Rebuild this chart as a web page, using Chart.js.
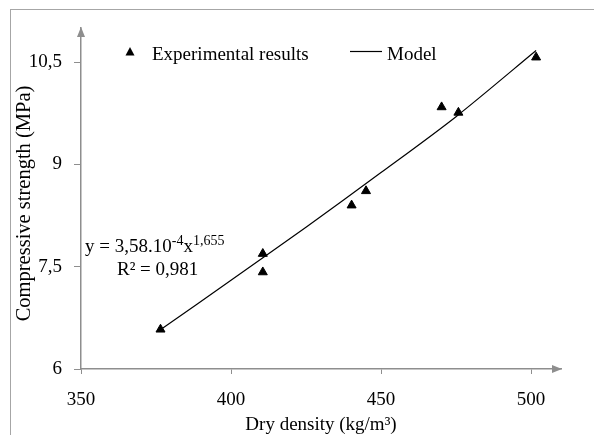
<!DOCTYPE html>
<html>
<head>
<meta charset="utf-8">
<script src="https://cdn.jsdelivr.net/npm/chart.js@4/dist/chart.umd.min.js"></script>
<style>
  html, body { margin: 0; padding: 0; background: #fff; }
  #wrap { position: relative; width: 594px; height: 435px; overflow: hidden; }
  #frame { position: absolute; left: 10px; top: 9px; width: 700px; height: 600px;
           border-top: 1px solid #a6a6a6; border-left: 1px solid #a6a6a6; }
  canvas { position: absolute; left: 0; top: 0; }
</style>
</head>
<body>
<div id="wrap">
  <div id="frame"></div>
  <canvas id="chart" width="594" height="435"></canvas>
</div>
<script>
// Measured points (dry density vs compressive strength)
const density = [376.5, 410.6, 410.6, 440.2, 445.0, 470.2, 475.8, 501.7];
const strength = [6.58, 7.69, 7.42, 8.40, 8.61, 9.84, 9.76, 10.57];

// Power-law model curve
const modelX = [377.3, 400, 425, 450, 475, 501.7];
const modelY = [6.60, 7.30, 8.08, 8.88, 9.70, 10.67];

// Axis ticks
const xTicks = [350, 400, 450, 500];
const yTicks = [6, 7.5, 9, 10.5];

const FONT = "'Liberation Serif', 'Times New Roman', serif";
const AXIS = '#8e8e8e';
const Y_TITLE = 'Compressive strength (MPa)';

function toPoints(xs, ys) {
    return xs.map((x, i) => ({ x: x, y: ys[i] }));
}

// Arrow heads at the end of both axes
const axisArrows = {
    id: 'axisArrows',
    afterDraw(chart) {
        const ctx = chart.ctx;
        const a = chart.chartArea;
        ctx.save();
        ctx.fillStyle = AXIS;
        ctx.beginPath();
        ctx.moveTo(a.right + 1, a.bottom);
        ctx.lineTo(a.right - 9, a.bottom - 4);
        ctx.lineTo(a.right - 9, a.bottom + 4);
        ctx.closePath();
        ctx.fill();
        ctx.beginPath();
        ctx.moveTo(a.left, a.top - 1);
        ctx.lineTo(a.left - 4, a.top + 9);
        ctx.lineTo(a.left + 4, a.top + 9);
        ctx.closePath();
        ctx.fill();
        ctx.restore();
    }
};

// Legend, y title and fitted equation
const labels = {
    id: 'labels',
    afterDraw(chart) {
        const ctx = chart.ctx;
        const a = chart.chartArea;
        const ds = chart.data.datasets;
        ctx.save();
        ctx.fillStyle = '#000';
        ctx.textBaseline = 'alphabetic';
        ctx.font = '19px ' + FONT;

        // legend: experimental
        const tx = a.left + 49, ty = 52;
        ctx.beginPath();
        ctx.moveTo(tx, ty - 5);
        ctx.lineTo(tx - 4.5, ty + 3.5);
        ctx.lineTo(tx + 4.5, ty + 3.5);
        ctx.closePath();
        ctx.fill();
        ctx.fillText(ds[0].label, a.left + 71, 60);

        // legend: model
        ctx.strokeStyle = '#000';
        ctx.lineWidth = 1.2;
        ctx.beginPath();
        ctx.moveTo(a.left + 269, 51.5);
        ctx.lineTo(a.left + 301, 51.5);
        ctx.stroke();
        ctx.fillText(ds[1].label, a.left + 306, 60);

        // equation
        let x = a.left + 4;
        const base = 252;
        const parts = [['y = 3,58.10', 0], ['-4', 1], ['x', 0], ['1,655', 1]];
        parts.forEach(p => {
            ctx.font = (p[1] ? '14px ' : '19px ') + FONT;
            ctx.fillText(p[0], x, p[1] ? base - 7 : base);
            x += ctx.measureText(p[0]).width;
        });
        ctx.font = '19px ' + FONT;
        ctx.fillText('R² = 0,981', a.left + 36, 275);

        // y axis title
        ctx.translate(25, (a.top + a.bottom) / 2 + 5);
        ctx.rotate(-Math.PI / 2);
        ctx.font = '20.5px ' + FONT;
        ctx.textAlign = 'center';
        ctx.textBaseline = 'middle';
        ctx.fillText(Y_TITLE, 0, 0);
        ctx.restore();
    }
};

const ctx = document.getElementById('chart').getContext('2d');
const chart = new Chart(ctx, {
    type: 'scatter',
    data: {
        datasets: [{
            label: 'Experimental results',
            data: toPoints(density, strength),
            pointStyle: 'triangle',
            pointRadius: 5.2,
            pointBackgroundColor: '#000',
            pointBorderColor: '#000',
            pointBorderWidth: 1,
            showLine: false
        }, {
            label: 'Model',
            data: toPoints(modelX, modelY),
            showLine: true,
            borderColor: '#000',
            borderWidth: 1.2,
            pointRadius: 0,
            tension: 0.3
        }]
    },
    options: {
        responsive: false,
        animation: false,
        devicePixelRatio: 1,
        layout: { padding: { left: 0, top: 28, right: 33, bottom: 0 } },
        plugins: {
            legend: { display: false },
            tooltip: { enabled: false }
        },
        scales: {
            x: {
                type: 'linear',
                min: 350,
                max: 510,
                afterBuildTicks: s => { s.ticks = xTicks.map(v => ({ value: v })); },
                afterFit: s => { s.height = 66; },
                grid: { drawOnChartArea: false, tickLength: 5, color: AXIS },
                border: { color: AXIS, width: 1.5 },
                ticks: {
                    color: '#000',
                    padding: 15,
                    maxRotation: 0,
                    font: { family: FONT, size: 19 }
                },
                title: {
                    display: true,
                    text: 'Dry density (kg/m³)',
                    color: '#000',
                    padding: { top: 0, bottom: -1 },
                    font: { family: FONT, size: 19 }
                }
            },
            y: {
                type: 'linear',
                min: 6,
                max: 11,
                afterBuildTicks: s => { s.ticks = yTicks.map(v => ({ value: v })); },
                afterFit: s => { s.width = 81; },
                grid: { drawOnChartArea: false, tickLength: 7, color: AXIS },
                border: { color: AXIS, width: 1.5 },
                ticks: {
                    color: '#000',
                    padding: 12,
                    font: { family: FONT, size: 19 },
                    callback: v => String(v).replace('.', ',')
                },
                title: { display: false }
            }
        }
    },
    plugins: [axisArrows, labels]
});
</script>
</body>
</html>
